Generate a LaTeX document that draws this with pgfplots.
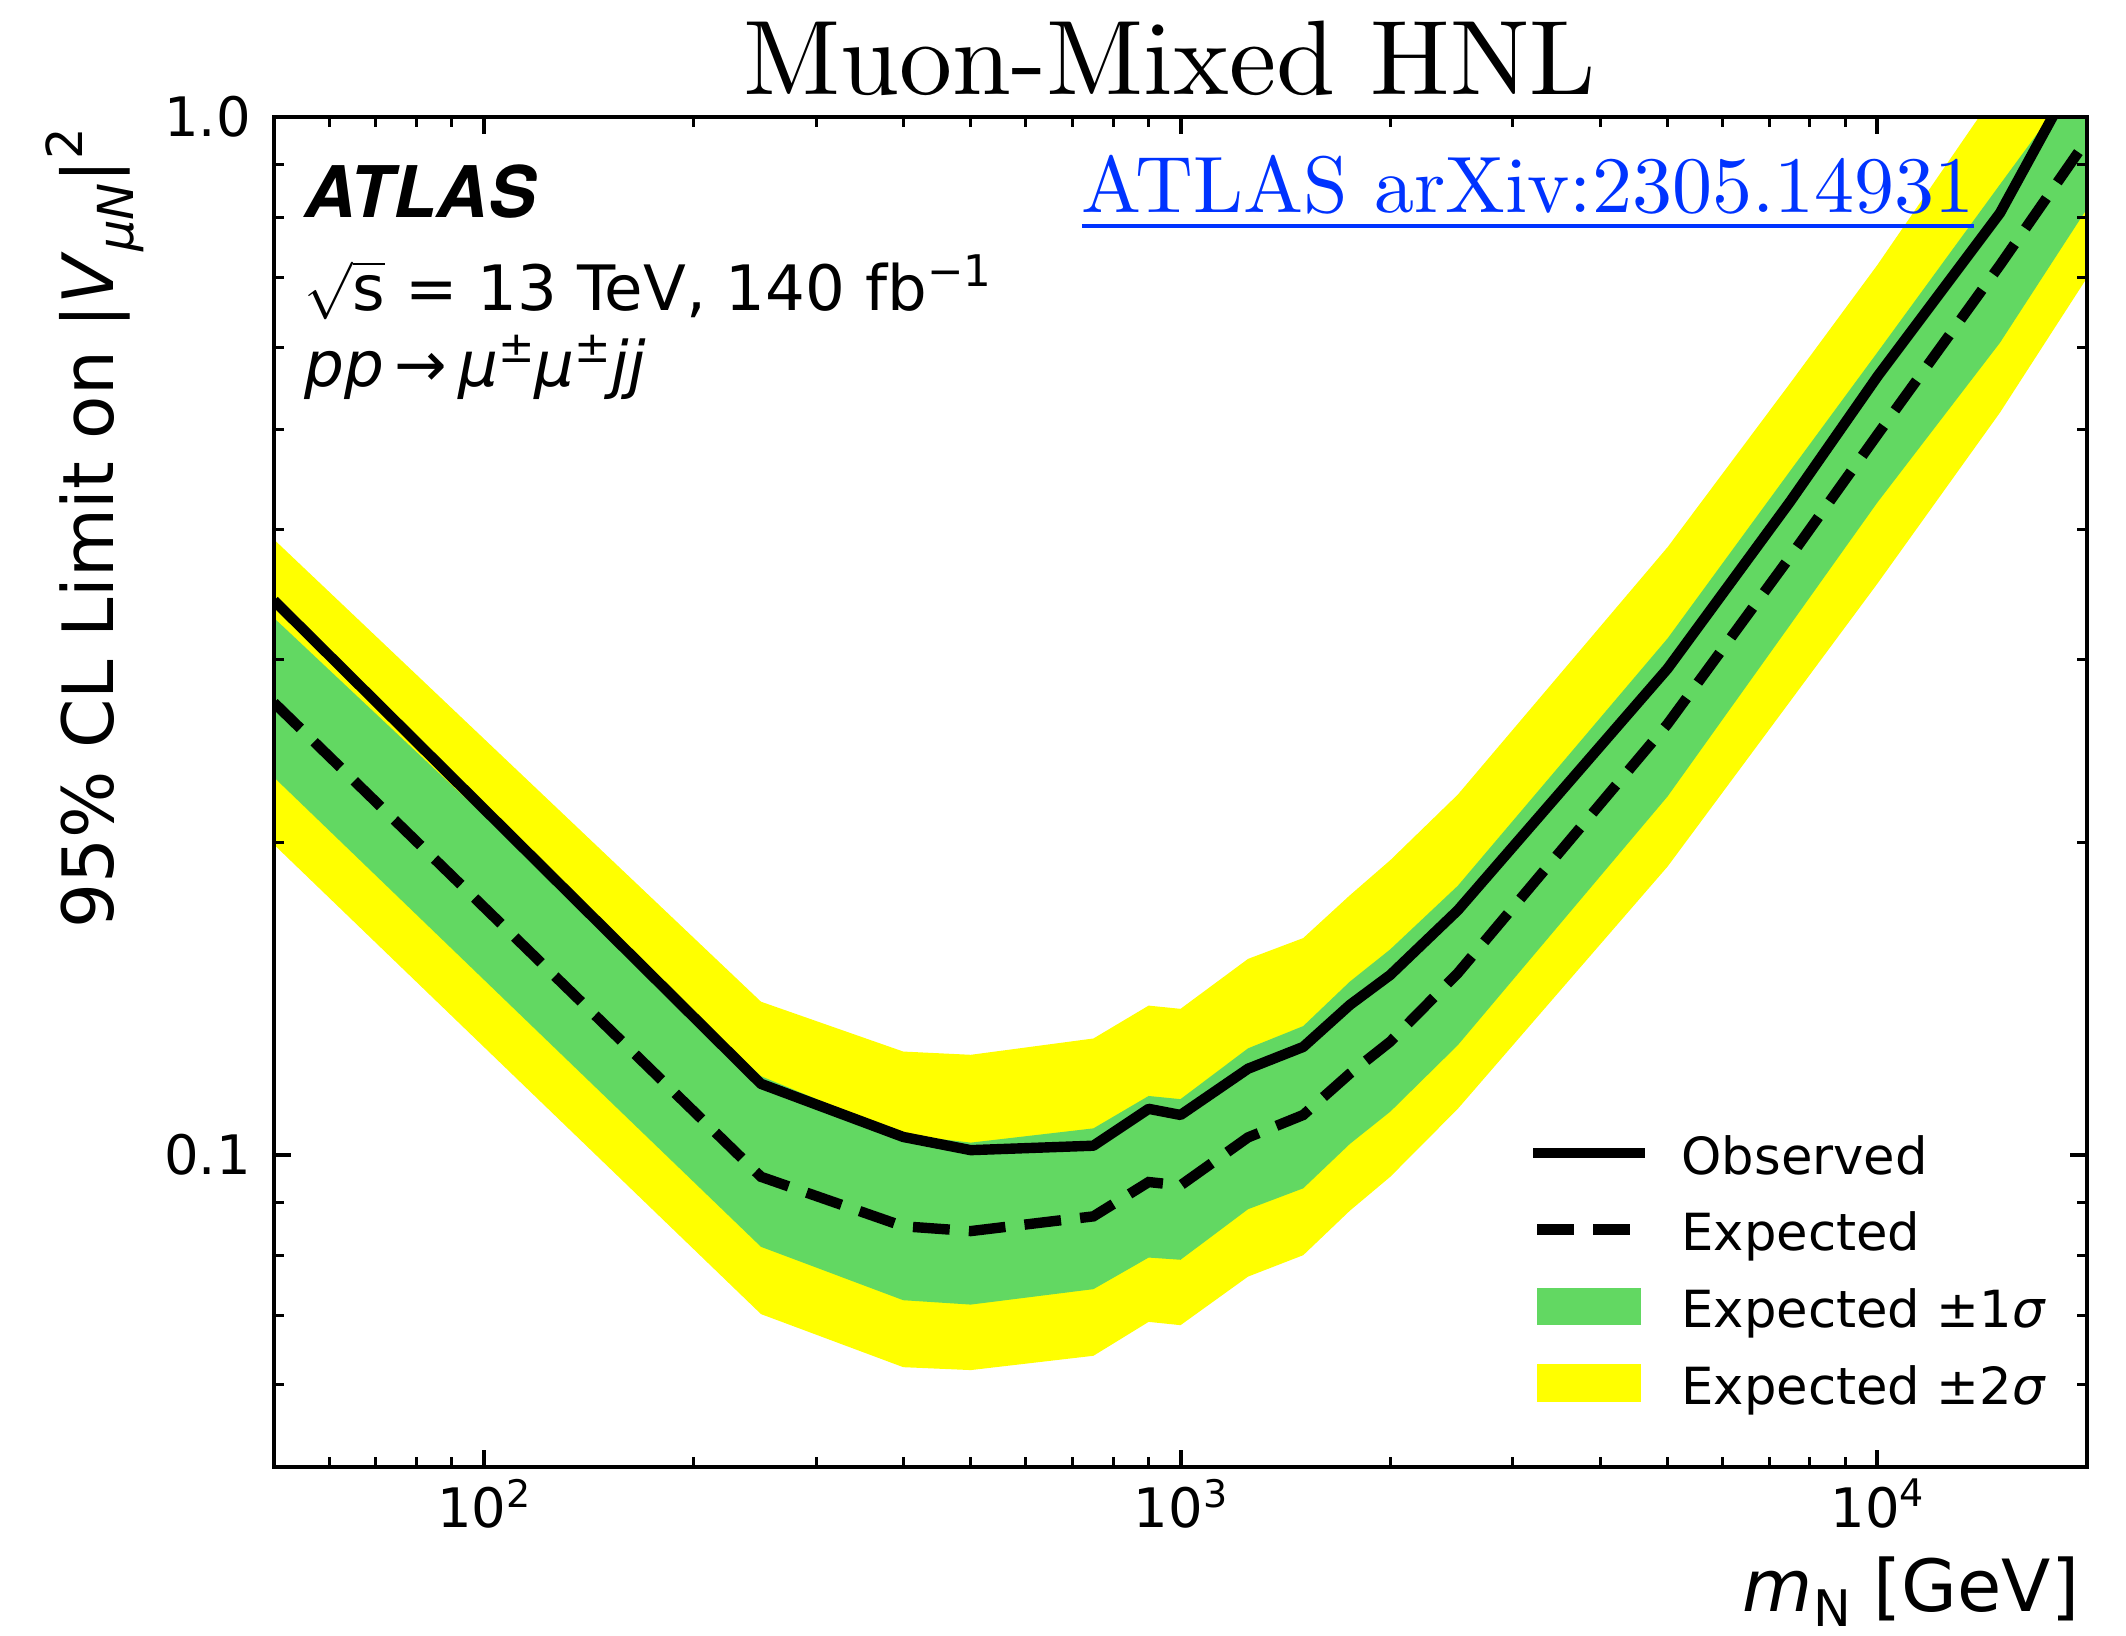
\documentclass[border=0pt]{standalone}
\usepackage{fontspec}
\usepackage{graphicx}
\usepackage{xcolor}
\usepackage{pgfplots}
\pgfplotsset{compat=1.18}
\usepackage{pgfplotstable}
\usepgfplotslibrary{fillbetween}
\newfontfamily\dejavu{DejaVu Sans}
\newfontfamily\heros{TeX Gyre Heros}
\definecolor{bandgreen}{RGB}{98,216,98}
\definecolor{bandyellow}{RGB}{255,255,0}
\definecolor{linkblue}{RGB}{0,51,255}

\pgfplotstableread{
m     obs    exp    glo    ghi    ylo    yhi
50    0.342  0.2726 0.231  0.329  0.199  0.3916
250   0.117  0.0952 0.0815 0.119  0.0702 0.1404
400   0.104  0.0853 0.0724 0.1045 0.0624 0.1257
500   0.101  0.0844 0.0717 0.1027 0.0620 0.1248
750   0.102  0.0872 0.0742 0.106  0.0640 0.1294
900   0.1107 0.0941 0.0796 0.1139 0.0690 0.1392
1000  0.1092 0.0934 0.0792 0.1131 0.0685 0.1382
1250  0.121  0.1039 0.0886 0.1266 0.0763 0.1544
1500  0.127  0.1092 0.0928 0.133  0.0800 0.1617
1750  0.1394 0.1197 0.1024 0.1468 0.0883 0.1778
2000  0.149  0.1285 0.110  0.1577 0.0952 0.1922
2500  0.172  0.1496 0.1275 0.1816 0.1107 0.2223
5000  0.294  0.260  0.2214 0.3144 0.1895 0.385
7500  0.426  0.377  0.324  0.456  0.2735 0.554
10000 0.562  0.494  0.425  0.593  0.355  0.72
15000 0.808  0.72   0.606  0.861  0.519  1.07
20000 1.15   0.951  0.816  1.12   0.70   1.42
}\datatable

\newcommand{\lstrut}{\rule[-2.9pt]{0pt}{15pt}}

\begin{document}
\begin{tikzpicture}
\begin{axis}[
  at={(0pt,0pt)}, anchor=south west,
  scale only axis, width=453.25pt, height=337.5pt,
  xmode=log, ymode=log,
  xmin=50, xmax=20000, ymin=0.05, ymax=1,
  axis on top,
  axis line style={line width=1pt},
  tick align=inside, xtick pos=both, ytick pos=both,
  major tick length=4.3pt, minor tick length=2.5pt,
  major tick style={line width=1pt, black},
  minor tick style={line width=0.75pt, black},
  xtick={100,1000,10000},
  xticklabels={10\raisebox{0.38em}{\fontsize{9.5}{10}\selectfont 2},
               10\raisebox{0.38em}{\fontsize{9.5}{10}\selectfont 3},
               10\raisebox{0.38em}{\fontsize{9.5}{10}\selectfont 4}},
  minor xtick={60,70,80,90,200,300,400,500,600,700,800,900,2000,3000,4000,5000,6000,7000,8000,9000},
  ytick={0.1,1}, yticklabels={0.1,1.0},
  minor ytick={0.06,0.07,0.08,0.09,0.2,0.3,0.4,0.5,0.6,0.7,0.8,0.9},
  tick label style={font=\dejavu\fontsize{13.6}{16}\selectfont},
  xticklabel style={inner sep=0pt, anchor=north, yshift=-2.75pt},
  yticklabel style={inner sep=0pt, anchor=east, xshift=-5.6pt},
  xlabel={\textit{m}\raisebox{-0.2em}{\fontsize{12.6}{14}\selectfont N} [GeV]},
  xlabel style={at={(axis description cs:0.9961,-0.1072)}, anchor=base east, inner sep=0pt,
    font=\dejavu\fontsize{18}{21}\selectfont},
  ylabel={95\% CL Limit on |\textit{V}\raisebox{-0.27em}{\fontsize{12.4}{14}\selectfont\textit{μN}}|\raisebox{0.45em}{\fontsize{12.4}{14}\selectfont 2}},
  ylabel style={at={(axis description cs:-0.0883,0.9926)}, anchor=base east, inner sep=0pt,
    font=\dejavu\fontsize{17.7}{21}\selectfont},
  title={\scalebox{2.65}{\fontsize{10}{12}\selectfont Muon-Mixed HNL}},
  title style={at={(axis description cs:0.494,1.0163)}, anchor=base, inner sep=0pt, yshift=-6pt},
  legend style={draw=none, fill=none, inner sep=0pt,
    at={(axis description cs:0.6913,0.0413)}, anchor=south west,
    font=\dejavu\fontsize{12.8}{15}\selectfont,
    row sep=5.6pt, column sep=7.75pt,
    nodes={inner sep=0pt}},
  legend cell align=left,
]
\addplot[draw=none, name path=yhi, forget plot] table[x=m, y=yhi] {\datatable};
\addplot[draw=none, name path=ylo, forget plot] table[x=m, y=ylo] {\datatable};
\addplot[draw=none, name path=ghi, forget plot] table[x=m, y=ghi] {\datatable};
\addplot[draw=none, name path=glo, forget plot] table[x=m, y=glo] {\datatable};
\addplot[fill=bandyellow, draw=none, forget plot] fill between[of=yhi and ylo];
\addplot[fill=bandgreen, draw=none, forget plot] fill between[of=ghi and glo];
\addplot[black, line width=2.6pt, dash pattern=on 9.2pt off 4.8pt, forget plot] table[x=m, y=exp] {\datatable};
\addplot[black, line width=2.6pt, line join=round, forget plot] table[x=m, y=obs] {\datatable};

\addlegendimage{legend image code/.code={\draw[black, line width=2.6pt, line cap=butt] (0pt,0pt) -- (28pt,0pt);}}
\addlegendentry{\lstrut Observed}
\addlegendimage{legend image code/.code={\path[draw=none] (0pt,0pt) -- (28pt,0pt); \draw[black, line width=2.6pt, line cap=butt] (1pt,0pt) -- (10.15pt,0pt) (15pt,0pt) -- (24.25pt,0pt);}}
\addlegendentry{\lstrut Expected}
\addlegendimage{legend image code/.code={\path[draw=none] (0pt,0pt) -- (28pt,0pt); \fill[bandgreen] (1pt,-4.5pt) rectangle (26.75pt,4.5pt);}}
\addlegendentry{\lstrut Expected ±1\textit{σ}}
\addlegendimage{legend image code/.code={\path[draw=none] (0pt,0pt) -- (28pt,0pt); \fill[bandyellow] (1pt,-4.5pt) rectangle (26.75pt,4.5pt);}}
\addlegendentry{\lstrut Expected ±2\textit{σ}}
\end{axis}

\node[anchor=base west, inner sep=0pt, font=\heros\bfseries\itshape\fontsize{17.8}{20}\selectfont] at (7.5pt,312.25pt) {ATLAS};
\node[anchor=base west, inner sep=0pt, font=\dejavu\fontsize{15.65}{18}\selectfont] at (7.5pt,289.1pt)
  {$\sqrt{\mbox{s}}$ = 13 TeV, 140 fb\raisebox{0.38em}{\fontsize{10.9}{12}\selectfont −1}};
\node[anchor=base west, inner sep=0pt, font=\dejavu\fontsize{15.7}{18}\selectfont] at (7.5pt,270.1pt)
  {\textit{pp}\,→\,\textit{μ}\raisebox{0.38em}{\fontsize{10.9}{12}\selectfont ±}\textit{μ}\raisebox{0.38em}{\fontsize{10.9}{12}\selectfont ±}\textit{jj}};
\node[anchor=base west, inner sep=0pt, text=linkblue] at (201.75pt,313.5pt)
  {\scalebox{2.0}{\fontsize{10}{12}\selectfont\underline{ATLAS arXiv:2305.14931}}};
\pgfresetboundingbox
\path[use as bounding box] (-68.5pt,-42pt) rectangle (463pt,366.75pt);
\end{tikzpicture}
\end{document}
